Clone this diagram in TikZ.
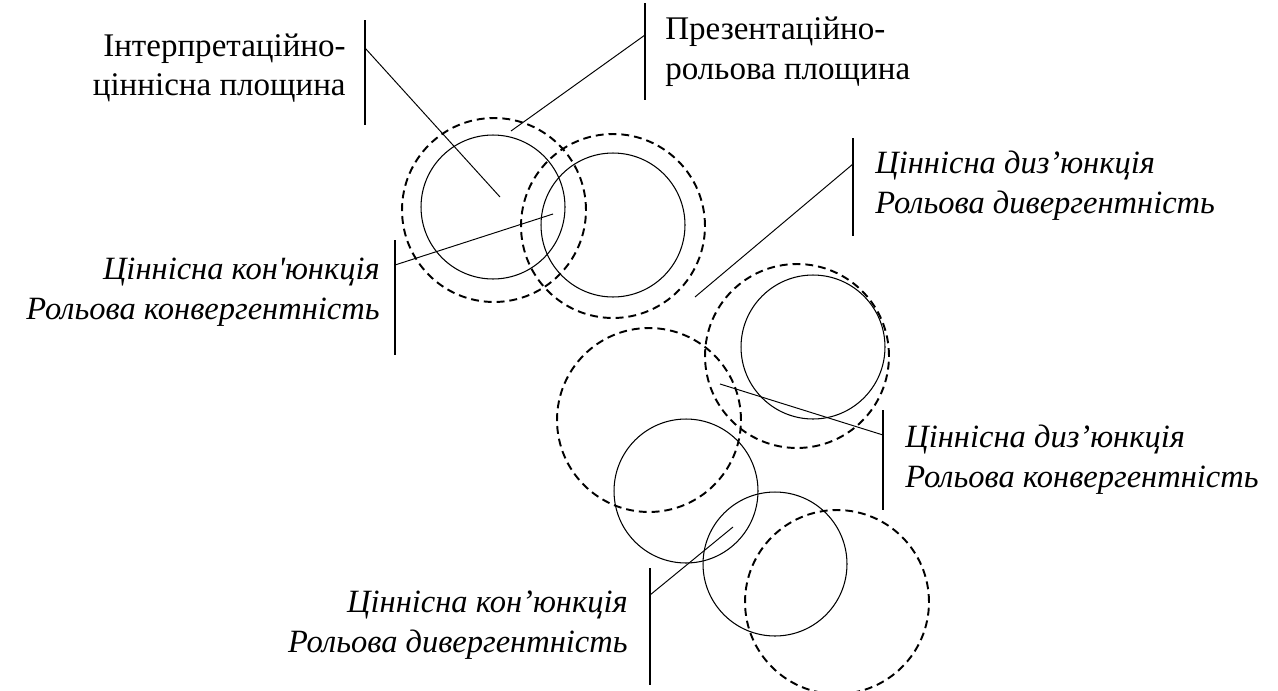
\documentclass[tikz,border=0pt]{standalone}
\usepackage{fontspec}
\setmainfont{Liberation Serif}
\usetikzlibrary{positioning}
\tikzset{
  kolo/.style = {circle, draw=black, minimum size=2.88cm, inner sep=0pt,
    line width=0.6pt},
  shtrykh/.style = {circle, draw=black, minimum size=3.68cm, inner sep=0pt,
    line width=1.1pt, dash pattern=on 4.5pt off 2.8pt},
  lp/.style = {draw=black, line width=0.55pt},
  riska/.style = {draw=black, line width=0.8pt},
  nap/.style = {font=\fontsize{18.8}{22.6}\selectfont, inner sep=0pt},
  kur/.style = {font=\fontsize{18.5}{22.6}\selectfont\itshape, inner sep=0pt}
}

\begin{document}
\begin{tikzpicture}[x=0.02cm, y=-0.02cm]
  \useasboundingbox (0,0) rectangle (1278,690);
  % кола
  \node [kolo] (s1) at (493,207) {};
  \node [shtrykh] (d1) at (494,210) {};
  \node [kolo] (s2) at (613,225) {};
  \node [shtrykh] (d2) at (613,226) {};
  \node [shtrykh] (d3) at (797,356) {};
  \node [kolo] (s3) at (813,347) {};
  \node [shtrykh] (d4) at (649,420) {};
  \node [kolo] (s4) at (686,491) {};
  \node [kolo] (s5) at (775,564) {};
  \node [shtrykh] (d5) at (837,602) {};

  % риски
  \foreach \n/\x/\t/\b in {a/365/20/125, b/645/3/100, c/395/240/355,
      d/853/138/236, e/883/410/510, f/650/568/685} {
    \coordinate (\n0) at (\x,\t);
    \coordinate (\n1) at (\x,\b);
    \draw [riska] (\n0) -- (\n1);
  }

  % виноски
  \foreach \n/\x/\y/\u/\v in {a/365/48/500/197, b/645/35/511/131,
      c/395/265/553/214, d/853/164/695/297, e/883/435/720/384,
      f/650/595/733/527} {
    \coordinate (\n s) at (\x,\y);
    \coordinate (\n e) at (\u,\v);
    \draw [lp] (\n s) -- (\n e);
  }

  % підписи
  \node [nap, anchor=east, align=right] (ta) at (346,68)
    {Інтерпретаційно-\\ціннісна площина};
  \node [nap, anchor=west, align=left] (tb) at (665,52)
    {Презентаційно-\\рольова площина};
  \node [kur, anchor=east, align=right] (tc) at (380,292)
    {Ціннісна кон\textquotesingle юнкція\\Рольова конвергентність};
  \node [kur, anchor=west, align=left] (td) at (875,186)
    {Ціннісна диз’юнкція\\Рольова дивергентність};
  \node [kur, anchor=west, align=left] (te) at (905,460)
    {Ціннісна диз’юнкція\\Рольова конвергентність};
  \node [kur, anchor=east, align=right] (tf) at (628,625)
    {Ціннісна кон’юнкція\\Рольова дивергентність};
\end{tikzpicture}
\end{document}
